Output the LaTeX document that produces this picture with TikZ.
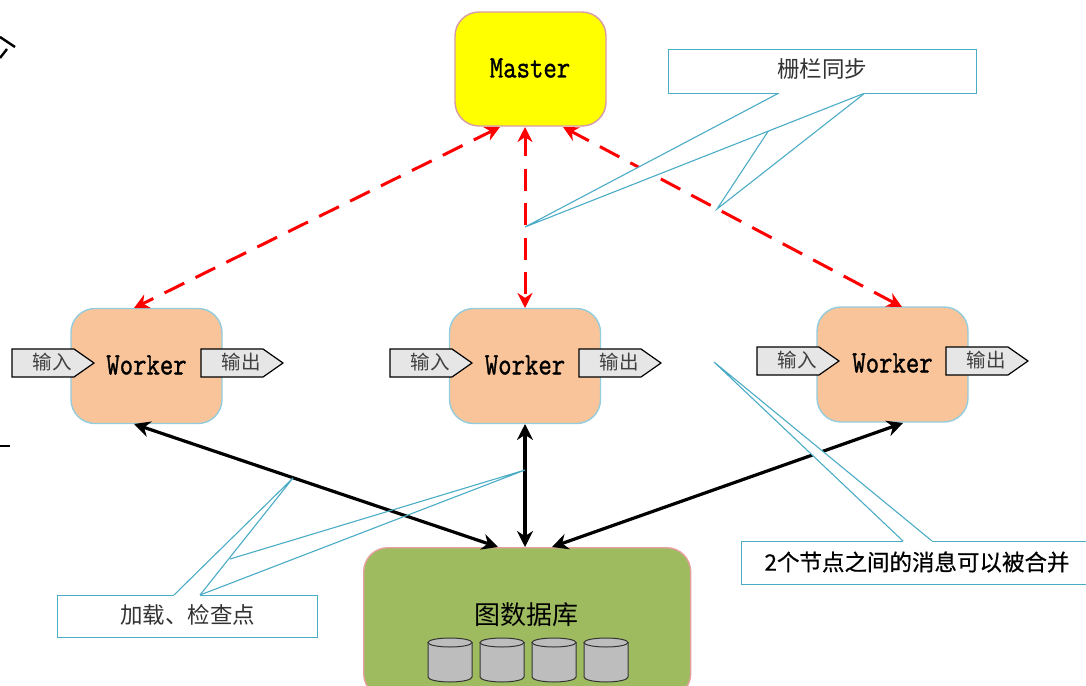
\documentclass[tikz,border=0pt]{standalone}
\usepackage{fontspec}
\setmainfont{Liberation Serif}
\newfontfamily\cjk{Noto Sans CJK SC}
\newfontfamily\cjkb[FakeBold=0.6]{Noto Sans CJK SC}
\newfontfamily\mono[FakeBold=1.2]{Latin Modern Mono}
\usetikzlibrary{arrows.meta}
\definecolor{calloutc}{HTML}{4BACC6}
\definecolor{workerc}{HTML}{F9C49A}
\definecolor{workerb}{HTML}{93CDDD}
\definecolor{dbc}{HTML}{9EBB60}
\definecolor{dbb}{HTML}{E6A0A0}
\definecolor{masterb}{HTML}{D79BA8}
\definecolor{masterf}{HTML}{FFFF00}
\definecolor{redl}{HTML}{FF0000}
\definecolor{pentc}{HTML}{E6E6E6}
\definecolor{cylc}{HTML}{BDBDBD}
\tikzset{
  x=1pt,y=-1pt,
  rbox/.style={rounded corners=24pt,line width=1.4pt,inner sep=0pt},
  mastertxt/.style={inner sep=0pt,font=\mono\fontsize{26}{26}\selectfont},
  reddash/.style={redl,line width=3pt,dash pattern=on 22pt off 12.5pt,dash phase=2pt,{Stealth[length=15pt,width=15pt]}-{Stealth[length=15pt,width=15pt]}},
  blackarrow/.style={black,line width=3.2pt,{Stealth[length=16pt,width=16pt]}-{Stealth[length=16pt,width=16pt]}},
  callout/.style={draw=calloutc,line width=1.1pt,line join=miter},
  calloutbox/.style={draw=calloutc,line width=1pt,fill=white},
  calltxt/.style={inner sep=0pt,text=black!80,font=\cjk\fontsize{22.5}{22.5}\selectfont},
  pent/.style={draw=black,fill=pentc,line width=1.2pt},
  penttxt/.style={inner sep=0pt,text=black!75,font=\cjk\fontsize{19.5}{19.5}\selectfont},
  cyl/.style={draw=black!80,fill=cylc,line width=1pt}
}
\newcommand{\pentagon}[2]{% x,y of left-top
  \path[pent] (#1,#2) -- ++(62,0) -- ++(20,14) -- ++(-20,14) -- ++(-62,0) -- cycle;}
\newcommand{\drum}[1]{%
  \path[cyl] (#1,642.5) -- (#1,677) arc[start angle=180,end angle=360,x radius=22,y radius=-5] -- (#1+44,642.5) -- cycle;
  \path[cyl] (#1+22,642.5) ellipse[x radius=22,y radius=4.5];}
\newcommand{\tallword}[1]{\scalebox{1}[1.2]{#1}}
\begin{document}
\begin{tikzpicture}
\useasboundingbox (0,0) rectangle (1086,685);
% stray cropped strokes at the left edge
\draw[black,line width=2.4pt] (0,37) -- (15,47);
\draw[black,line width=2.4pt] (0,58) -- (7,49);
\draw[black,line width=1.4pt] (0,446) -- (10,446);
% main boxes
\node[rbox,draw=masterb,fill=masterf,minimum width=151pt,minimum height=114pt] (master) at (530.5,69) {};
\node[mastertxt] (mastertext) at (530,68) {\tallword{Master}};
\node[rbox,draw=workerb,fill=workerc,minimum width=151pt,minimum height=115pt] (w1) at (146.5,366) {};
\node[rbox,draw=workerb,fill=workerc,minimum width=151pt,minimum height=115pt] (w2) at (525,366) {};
\node[rbox,draw=workerb,fill=workerc,minimum width=151pt,minimum height=115pt] (w3) at (892.5,364.5) {};
\begin{scope}
\clip (0,0) rectangle (1086,685);
\node[rbox,draw=dbb,fill=dbc,minimum width=327pt,minimum height=150pt,anchor=north west] (db) at (363,547) {};
\end{scope}
\node[inner sep=0pt,font=\cjk\fontsize{26}{26}\selectfont] (dbt) at (526.5,615) {图数据库};
\drum{428}\drum{480}\drum{532}\drum{584}
% connectors
\coordinate (m1) at (500,127);
\coordinate (m2) at (525,127);
\coordinate (m3) at (563,127);
\coordinate (w1t) at (134,308);
\coordinate (w2t) at (525,308);
\coordinate (w3t) at (902,307);
\draw[reddash] (m1) -- (w1t);
\draw[reddash] (m2) -- (w2t);
\draw[reddash] (m3) -- (w3t);
\coordinate (w1b) at (134,424);
\coordinate (w2b) at (525,424);
\coordinate (w3b) at (903,423);
\coordinate (d1) at (498,547);
\coordinate (d2) at (525,547);
\coordinate (d3) at (552,547);
\draw[blackarrow] (w1b) -- (d1);
\draw[blackarrow] (w2b) -- (d2);
\draw[blackarrow] (w3b) -- (d3);
% worker texts and ports
\foreach \n/\x/\y/\wx/\wy in {a/12/349/146.5/365,b/390/349/525/365,c/757/347/892.5/363}{
  \pentagon{\x}{\y}
  \pentagon{\x+189}{\y}
  \node[penttxt] (in\n) at (\x+40,\y+13) {输入};
  \node[penttxt] (out\n) at (\x+229,\y+13) {输出};
  \node[mastertxt] (wt\n) at (\wx,\wy) {\tallword{Worker}};
}
% callouts
\path[callout,fill=white] (769,130) -- (717,209) -- (865,93);
\path[callout,fill=white] (779,93) -- (525,227) -- (865,93);
\path[calloutbox] (779,93) -- (668,93) -- (668,50) -- (976,50) -- (976,93) -- (865,93);
\node[calltxt] (c1) at (822,69) {栅栏同步};
\path[callout] (230,559) -- (525,470) -- (200,595);
\path[callout,fill=white] (200,595) -- (293,478) -- (174,595);
\path[calloutbox] (174,595) -- (57,595) -- (57,637) -- (317,637) -- (317,595) -- (200,595);
\node[calltxt] (c2) at (187.5,615) {加载、检查点};
\path[callout,fill=white] (903,541) -- (714,362) -- (932,541);
\path[calloutbox] (903,541) -- (741,541) -- (741,584) -- (1090,584) -- (1090,541) -- (932,541);
\node[inner sep=0pt,font=\cjkb\fontsize{22.5}{22.5}\selectfont] (c3) at (917,562) {2个节点之间的消息可以被合并};
\end{tikzpicture}
\end{document}
